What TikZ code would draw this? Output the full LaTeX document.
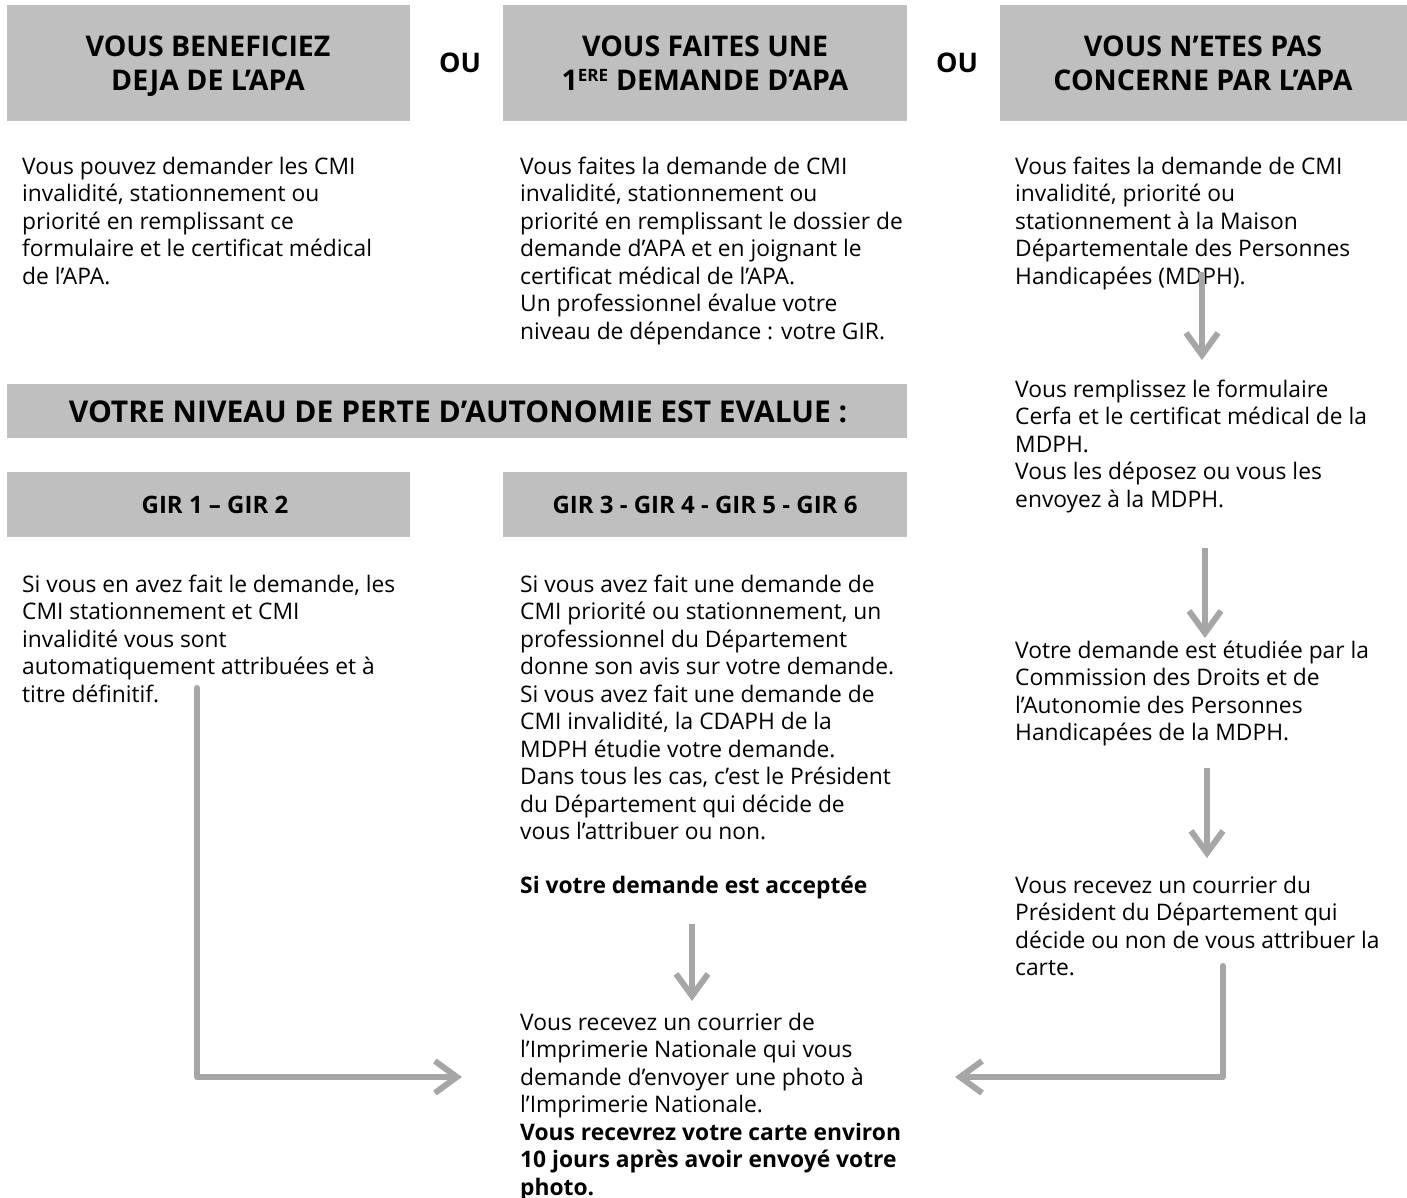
\documentclass[tikz,border=0pt]{standalone}
\usepackage{fontspec}
\setmainfont{Open Sans}
\usetikzlibrary{arrows.meta}
\definecolor{boxgray}{HTML}{BFBFBF}
\definecolor{arrowgray}{HTML}{A6A6A6}
\tikzset{
  hdrbox/.style={fill=boxgray, draw=none},
  hdrtext/.style={font=\fontsize{28.5}{34}\selectfont\bfseries, align=center, inner sep=0pt, anchor=base},
  bodytext/.style={font=\fontsize{22.8}{27.5}\selectfont, align=left, inner sep=0pt, anchor=base west},
  outext/.style={font=\fontsize{27}{30}\selectfont\bfseries, inner sep=0pt, anchor=base},
  flowarrow/.style={draw=arrowgray, line width=6pt, -{Straight Barb[length=22pt,width=32pt]}},
  flowline/.style={draw=arrowgray, line width=6pt, line cap=round, line join=miter}
}
\begin{document}
\begin{tikzpicture}[x=1pt,y=-1pt]
\useasboundingbox (0,0) rectangle (1407,1198);
\fill[white] (0,0) rectangle (1407,1198);

% header boxes (nodes placed at the baseline of their last line)
\fill[hdrbox] (7,5) rectangle (410,121);
\fill[hdrbox] (503,5) rectangle (907,121);
\fill[hdrbox] (1000,5) rectangle (1407,121);
\node[hdrtext] (h1) at (208,91) {VOUS BENEFICIEZ\\DEJA DE L’APA};
\node[hdrtext] (h2) at (705,91) {VOUS FAITES UNE\\1\textsuperscript{\fontsize{17}{17}\selectfont ERE} DEMANDE D’APA};
\node[hdrtext] (h3) at (1203,91) {VOUS N’ETES PAS\\CONCERNE PAR L’APA};
\node[outext] (ou1) at (460,73) {OU};
\node[outext] (ou2) at (957,73) {OU};

% first texts
\node[bodytext] (t1) at (22,284) {Vous pouvez demander les CMI\\invalidité, stationnement ou\\priorité en remplissant ce\\formulaire et le certificat médical\\de l’APA.};
\node[bodytext] (t2) at (520,339) {Vous faites la demande de CMI\\invalidité, stationnement ou\\priorité en remplissant le dossier de\\demande d’APA et en joignant le\\certificat médical de l’APA.\\Un professionnel évalue votre\\niveau de dépendance : votre GIR.};
\node[bodytext] (t3) at (1015,284) {Vous faites la demande de CMI\\invalidité, priorité ou\\stationnement à la Maison\\Départementale des Personnes\\Handicapées (MDPH).};

% level box
\fill[hdrbox] (7,384) rectangle (907,438);
\node[hdrtext, font=\fontsize{30}{34}\selectfont\bfseries] (lvl) at (458,422) {VOTRE NIVEAU DE PERTE D’AUTONOMIE EST EVALUE :};

% GIR boxes
\fill[hdrbox] (7,472) rectangle (410,537);
\fill[hdrbox] (503,472) rectangle (907,537);
\node[hdrtext, font=\fontsize{24}{28}\selectfont\bfseries] (g1) at (215,513) {GIR 1 – GIR 2};
\node[hdrtext, font=\fontsize{24}{28}\selectfont\bfseries] (g2) at (705,513) {GIR 3 - GIR 4 - GIR 5 - GIR 6};

\node[bodytext] (t4) at (22,702) {Si vous en avez fait le demande, les\\CMI stationnement et CMI\\invalidité vous sont\\automatiquement attribuées et à\\titre définitif.};
\node[bodytext] (t5) at (520,839.5) {Si vous avez fait une demande de\\CMI priorité ou stationnement, un\\professionnel du Département\\donne son avis sur votre demande.\\Si vous avez fait une demande de\\CMI invalidité, la CDAPH de la\\MDPH étudie votre demande.\\Dans tous les cas, c’est le Président\\du Département qui décide de\\vous l’attribuer ou non.};
\node[bodytext, font=\fontsize{22.8}{27.5}\selectfont\bfseries] (acc) at (520,893) {Si votre demande est acceptée};

\node[bodytext] (t6) at (1015,507) {Vous remplissez le formulaire\\Cerfa et le certificat médical de la\\MDPH.\\Vous les déposez ou vous les\\envoyez à la MDPH.};
\node[bodytext] (t7) at (1015,740.5) {Votre demande est étudiée par la\\Commission des Droits et de\\l’Autonomie des Personnes\\Handicapées de la MDPH.};
\node[bodytext] (t8) at (1015,975.5) {Vous recevez un courrier du\\Président du Département qui\\décide ou non de vous attribuer la\\carte.};

\node[bodytext] (fin) at (520,1195) {Vous recevez un courrier de\\l’Imprimerie Nationale qui vous\\demande d’envoyer une photo à\\l’Imprimerie Nationale.\\\textbf{Vous recevrez votre carte environ}\\\textbf{10 jours après avoir envoyé votre}\\\textbf{photo.}};

% connectors
\coordinate (a1s) at (1202,272); \coordinate (a1e) at (1202,360);
\coordinate (a2s) at (1205,548); \coordinate (a2e) at (1205,638);
\coordinate (a3s) at (1207,768); \coordinate (a3e) at (1207,858);
\coordinate (a4s) at (692,924);  \coordinate (a4e) at (692,1001);
\draw[flowarrow] (a1s) -- (a1e);
\draw[flowarrow] (a2s) -- (a2e);
\draw[flowarrow] (a3s) -- (a3e);
\draw[flowarrow] (a4s) -- (a4e);

\coordinate (l1) at (197,688); \coordinate (l2) at (197,1077); \coordinate (l3) at (462,1077);
\draw[flowline] (l1) -- (l2);
\draw[flowarrow] (l2) -- (l3);
\coordinate (r1) at (1223,966); \coordinate (r2) at (1223,1077); \coordinate (r3) at (955,1077);
\draw[flowline] (r1) -- (r2);
\draw[flowarrow] (r2) -- (r3);
\end{tikzpicture}
\end{document}
